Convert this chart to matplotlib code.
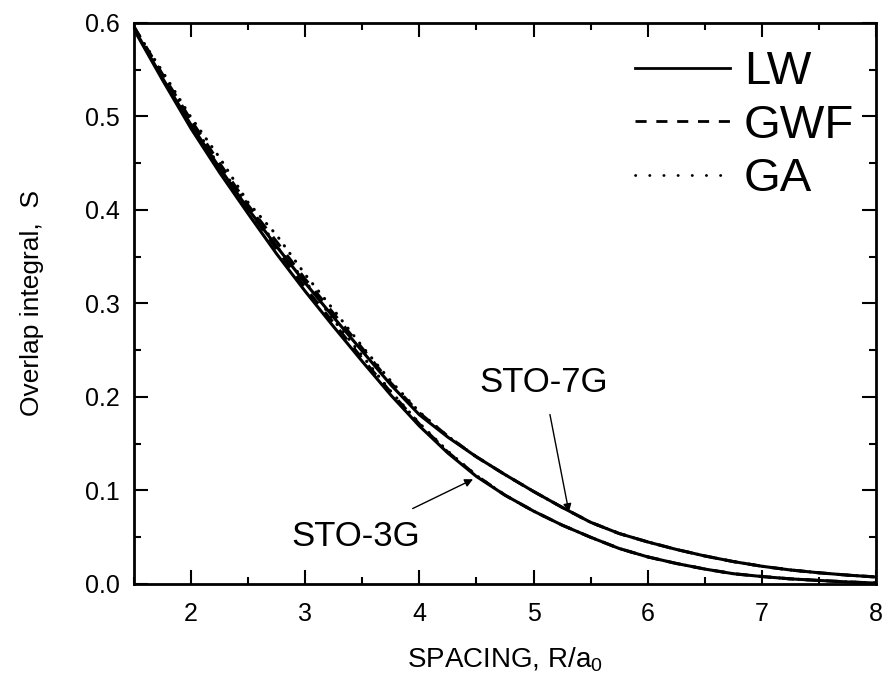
import matplotlib
matplotlib.use("Agg")
import matplotlib.pyplot as plt
from matplotlib.ticker import MultipleLocator

plt.rcParams['font.family'] = ['Liberation Sans', 'DejaVu Sans']
plt.rcParams['mathtext.fontset'] = 'custom'
plt.rcParams['mathtext.rm'] = 'Liberation Sans'

# spacing R/a0
spacing = [1.5, 1.75, 2.0, 2.25, 2.5, 2.75, 3.0, 3.25, 3.5, 3.75, 4.0, 4.25, 4.5, 4.75,
           5.0, 5.25, 5.5, 5.75, 6.0, 6.25, 6.5, 6.75, 7.0, 7.25, 7.5, 7.75, 8.0]

# STO-3G
lw_3g = [0.593, 0.539, 0.487, 0.440, 0.396, 0.353, 0.313, 0.275, 0.238, 0.202, 0.169, 0.140,
         0.115, 0.095, 0.078, 0.063, 0.050, 0.038, 0.029, 0.022, 0.016, 0.011, 0.008, 0.0055,
         0.0038, 0.0022, 0.001]
gwf_3g = [0.596, 0.543, 0.491, 0.445, 0.401, 0.358, 0.317, 0.279, 0.241, 0.205, 0.171, 0.141,
          0.116, 0.095, 0.078, 0.063, 0.050, 0.038, 0.029, 0.022, 0.016, 0.011, 0.008, 0.0055,
          0.0038, 0.0022, 0.001]
ga_3g = [0.595, 0.545, 0.496, 0.446, 0.406, 0.361, 0.324, 0.282, 0.244, 0.206, 0.172, 0.142,
         0.116, 0.095, 0.078, 0.063, 0.050, 0.038, 0.029, 0.022, 0.016, 0.011, 0.008, 0.0055,
         0.0038, 0.0022, 0.001]

# STO-7G
lw_7g = [0.594, 0.541, 0.491, 0.445, 0.401, 0.361, 0.322, 0.285, 0.249, 0.213, 0.181, 0.157,
         0.136, 0.117, 0.099, 0.082, 0.066, 0.054, 0.045, 0.037, 0.030, 0.024, 0.019, 0.015,
         0.012, 0.0095, 0.0075]
gwf_7g = [0.596, 0.545, 0.496, 0.450, 0.405, 0.366, 0.326, 0.289, 0.252, 0.215, 0.183, 0.158,
          0.136, 0.117, 0.099, 0.082, 0.066, 0.054, 0.045, 0.037, 0.030, 0.024, 0.019, 0.015,
          0.012, 0.0095, 0.0075]
ga_7g = [0.595, 0.548, 0.499, 0.456, 0.408, 0.373, 0.331, 0.293, 0.254, 0.217, 0.184, 0.158,
         0.136, 0.117, 0.099, 0.082, 0.066, 0.054, 0.045, 0.037, 0.030, 0.024, 0.019, 0.015,
         0.012, 0.0095, 0.0075]

fig = plt.figure(figsize=(8.85, 6.84), dpi=100)
ax = fig.add_axes([0.1514, 0.1462, 0.8384, 0.8202])

lw = 2.2
dash = (4, 3.5)
dot = (0.1, 3)

ax.plot(spacing, lw_3g, color='black', lw=lw, label='LW')
ax.plot(spacing, gwf_3g, color='black', lw=lw, dashes=dash, label='GWF')
ax.plot(spacing, ga_3g, color='black', lw=lw, dashes=dot, dash_capstyle='round', label='GA')
ax.plot(spacing, lw_7g, color='black', lw=lw)
ax.plot(spacing, gwf_7g, color='black', lw=lw, dashes=dash)
ax.plot(spacing, ga_7g, color='black', lw=lw, dashes=dot, dash_capstyle='round')

ax.annotate('STO-7G', xy=(5.31, 0.077), xytext=(5.09, 0.215), fontsize=25,
            ha='center', va='center',
            arrowprops=dict(arrowstyle='-|>', color='black', lw=1, shrinkA=9, shrinkB=0,
                            mutation_scale=12))
ax.annotate('STO-3G', xy=(4.47, 0.112), xytext=(3.44, 0.051), fontsize=25,
            ha='center', va='center',
            arrowprops=dict(arrowstyle='-|>', color='black', lw=1, shrinkA=14, shrinkB=0,
                            mutation_scale=12))

ax.set_xlim(1.5, 8)
ax.set_ylim(0, 0.6)
ax.xaxis.set_major_locator(MultipleLocator(1))
ax.xaxis.set_minor_locator(MultipleLocator(0.5))
ax.yaxis.set_major_locator(MultipleLocator(0.1))
ax.yaxis.set_minor_locator(MultipleLocator(0.05))
ax.yaxis.set_major_formatter(plt.FormatStrFormatter('%.1f'))
ax.tick_params(which='both', direction='in', top=True, right=True, width=1.5, labelsize=18)
ax.tick_params(which='major', length=10, pad=10)
ax.tick_params(axis='x', which='major', pad=13)
ax.tick_params(which='minor', length=5)
for s in ax.spines.values():
    s.set_linewidth(2)

ax.set_xlabel('SPACING, R/a$_\\mathregular{0}$', fontsize=20, labelpad=14)
ax.set_ylabel('Overlap integral,  S', fontsize=19, labelpad=30)

leg = ax.legend(loc='upper right', bbox_to_anchor=(1.015, 1.01), frameon=False, fontsize=34,
                handlelength=2.0, handletextpad=0.3, labelspacing=0.2, borderpad=0.2)
for h in leg.get_lines():
    h.set_linewidth(2)
leg.get_lines()[2].set_dashes((0.1, 5))

fig.savefig('out.png', dpi=100)
